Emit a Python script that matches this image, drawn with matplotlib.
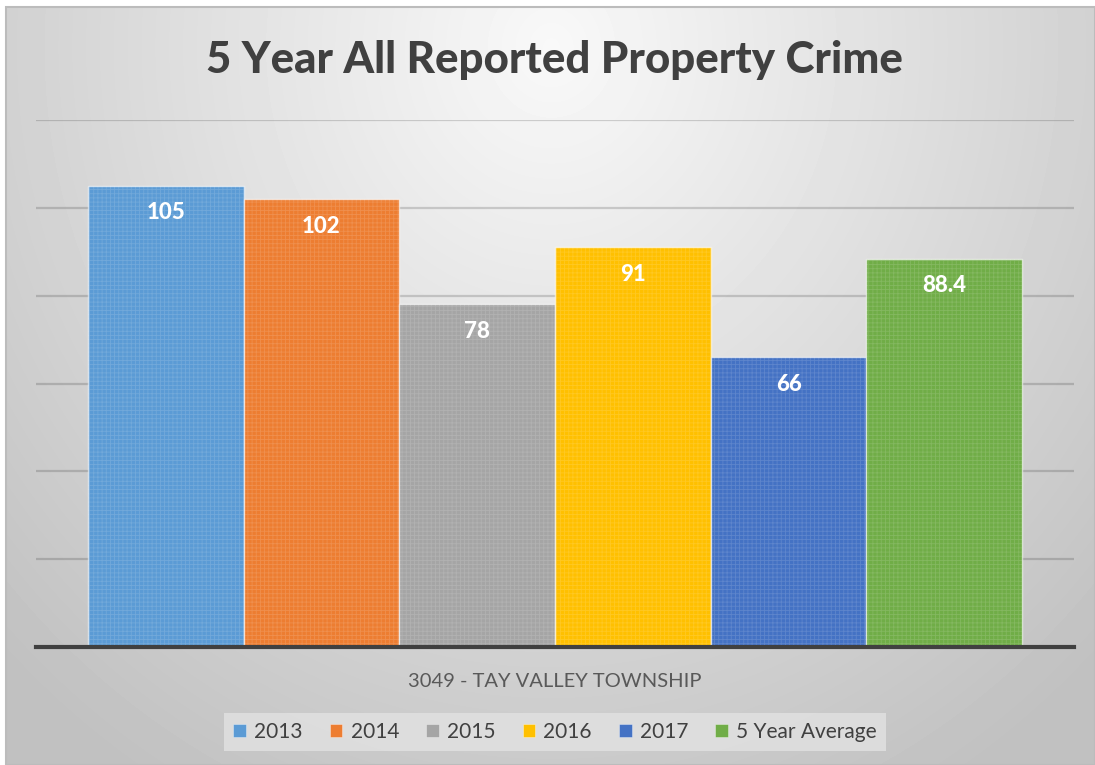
import numpy as np
import matplotlib
matplotlib.use("Agg")
import matplotlib.pyplot as plt
from matplotlib.patches import Patch, Rectangle

# chart data
series = ["2013", "2014", "2015", "2016", "2017", "5 Year Average"]
values = [105, 102, 78, 91, 66, 88.4]
value_labels = ["105", "102", "78", "91", "66", "88.4"]
category = "3049 - TAY VALLEY TOWNSHIP"
colors = ["#5B9BD5", "#ED7D31", "#A5A5A5", "#FFC000", "#4472C4", "#70AD47"]

plt.rcParams["font.family"] = ["Lato", "DejaVu Sans"]
plt.rcParams["hatch.linewidth"] = 0.6

W, H = 1095, 765
fig = plt.figure(figsize=(W / 100, H / 100), dpi=100)
fig.patch.set_facecolor("white")

# radial gradient background inside the chart frame
bg = fig.add_axes([6 / W, 0, (W - 6) / W, (H - 7) / H])
bg.set_axis_off()
yy, xx = np.mgrid[0:758, 0:1089]
d = np.sqrt(((xx - 545) / 780.0) ** 2 + ((yy - 40) / 860.0) ** 2)
d = np.clip(d, 0, 1)
shade = 0.975 - d * (0.975 - 0.755)
bg.imshow(shade, cmap="gray", vmin=0, vmax=1, aspect="auto",
          extent=[0, 1, 0, 1], interpolation="bilinear")
bg.add_patch(Rectangle((0, 0), 1, 1, transform=bg.transAxes, fill=False,
                       edgecolor="#bcbcbc", linewidth=1.5, clip_on=False))

ax = fig.add_axes([36 / W, 118 / H, 1038 / W, 527 / H])
ax.set_facecolor("none")

n = len(values)
width = 0.9 / n
offsets = [(i - (n - 1) / 2) * width for i in range(n)]

for x, v, c, lab in zip(offsets, values, colors, value_labels):
    ax.bar(x, v, width=width, color=c, edgecolor=(1, 1, 1, 0.6), linewidth=1, zorder=3)
    ax.bar(x, v, width=width, fill=False, hatch="++++", edgecolor=(1, 1, 1, 0.14),
           linewidth=0, zorder=3)
    ax.annotate(lab, (x, v), xytext=(0, -19.5), textcoords="offset points",
                ha="center", va="center", color="white", fontsize=16,
                fontweight="black", zorder=4)

ax.set_xlim(-0.5, 0.5)
ax.set_ylim(0, 120)
ax.set_yticks(range(0, 121, 20))
ax.yaxis.grid(True, color="#000000", alpha=0.16, linewidth=1.6)
ax.set_axisbelow(True)
ax.tick_params(axis="y", length=0, labelleft=False)
ax.set_xticks([0])
ax.set_xticklabels([category], color="#595959", fontsize=14.5)
ax.tick_params(axis="x", length=0, pad=18.5)
for s in ["top", "left", "right"]:
    ax.spines[s].set_visible(False)
ax.spines["bottom"].set_color("#404040")
ax.spines["bottom"].set_linewidth(3)
ax.spines["bottom"].set_zorder(5)

fig.text(0.506, 1 - 60 / H, "5 Year All Reported Property Crime", ha="center",
         va="center", fontsize=31.6, fontweight="black", color="#404040")

handles = [Patch(facecolor=c, edgecolor=(1, 1, 1, 0.5), linewidth=0.5) for c in colors]
leg = fig.legend(handles, series, loc="center", bbox_to_anchor=(0.507, 1 - 732 / H),
                 ncol=n, frameon=True, fontsize=15, handlelength=0.6, handleheight=0.6,
                 handletextpad=0.4, columnspacing=1.3, borderpad=0.45, fancybox=False)
leg.get_frame().set_facecolor("#e2e2e2")
leg.get_frame().set_edgecolor("none")
leg.get_frame().set_alpha(0.8)
for t in leg.get_texts():
    t.set_color("#404040")

fig.savefig("out.png", dpi=100)
